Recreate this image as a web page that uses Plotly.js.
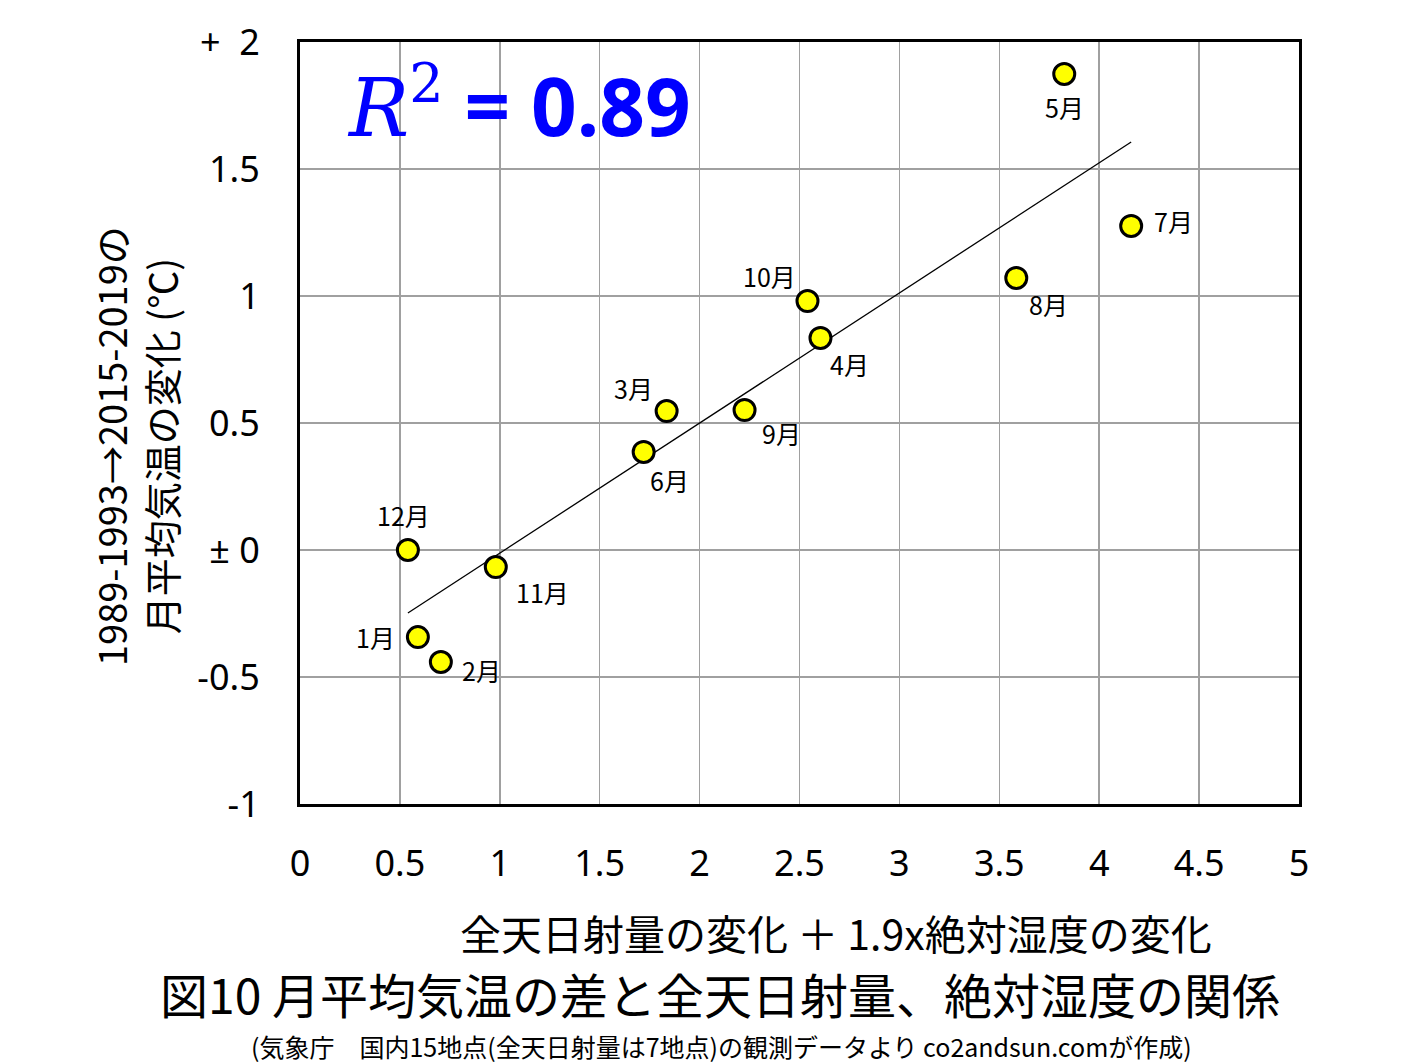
<!DOCTYPE html>
<html>
<head>
<meta charset="utf-8">
<script src="https://cdn.plot.ly/plotly-3.0.1.min.js"></script>
<style>
html,body{margin:0;padding:0;background:#fff;}
#chart{width:1418px;height:1064px;}
</style>
</head>
<body>
<div id="chart"></div>
<script>
// Data
const months = ["1月","2月","3月","4月","5月","6月","7月","8月","9月","10月","11月","12月"];
const xChange = [0.59, 0.705, 1.835, 2.605, 3.825, 1.72, 4.16, 3.585, 2.225, 2.54, 0.98, 0.54];
const tempChange = [-0.343, -0.441, 0.547, 0.835, 1.874, 0.386, 1.276, 1.071, 0.551, 0.98, -0.067, 0.0];
// label offsets (pixels) relative to each point
const labelDx = [-42, 41, -33, 29, 0, 26, 42, 32, 37, -38, 47, -4];
const labelDy = [0, -8, 23, -26, -33, -28, 5, -26, -23, 25, -25, 35];

const xTickVals = [0,0.5,1,1.5,2,2.5,3,3.5,4,4.5,5];
const xTickText = ["0","0.5","1","1.5","2","2.5","3","3.5","4","4.5","5"];
const yTickVals = [-1,-0.5,0,0.5,1,1.5,2];
const yTickText = ["-1","-0.5","±\u00a00","0.5","1","1.5","+\u00a0\u00a02"];

// least-squares trend line
const n = xChange.length;
const mx = xChange.reduce((a,b)=>a+b,0)/n;
const my = tempChange.reduce((a,b)=>a+b,0)/n;
let sxy=0, sxx=0;
for(let i=0;i<n;i++){sxy+=(xChange[i]-mx)*(tempChange[i]-my);sxx+=(xChange[i]-mx)**2;}
const slope = sxy/sxx, icpt = my - slope*mx;
const xmin = Math.min(...xChange), xmax = Math.max(...xChange);
const trendX = [xmin, xmax];
const trendY = trendX.map(v=>icpt+slope*v);

const JP = "'Noto Sans CJK JP', 'Noto Sans', sans-serif";
const NUM = "'Noto Sans', 'DejaVu Sans', sans-serif";

const traces = [
  {x: trendX, y: trendY, mode:'lines', line:{color:'#000', width:1.3}, hoverinfo:'skip', showlegend:false},
  {x: xChange, y: tempChange, mode:'markers', showlegend:false,
   marker:{size:21, color:'#FFFF00', line:{color:'#000', width:3}}}
];

const annotations = months.map((m,i)=>({
  x: xChange[i], y: tempChange[i], xref:'x', yref:'y', text:m, showarrow:false,
  xshift: labelDx[i], yshift: labelDy[i],
  font:{family:JP, size:25, color:'#000'}
}));

annotations.push({
  xref:'paper', yref:'paper', x:0.045, y:0.918, xanchor:'left', yanchor:'middle',
  showarrow:false,
  text:"<span style='font-family:DejaVu Serif, Liberation Serif, serif'><i>R</i><sup><span style='font-size:54px'>2</span></sup></span><b> = 0.89</b>",
  font:{family:"'Noto Sans', 'DejaVu Sans', sans-serif", size:80, color:'#0000FF'}
});
annotations.push({
  xref:'paper', yref:'paper', x:-0.165, y:0.47, xanchor:'center', yanchor:'middle',
  textangle:-90, showarrow:false,
  text:"1989-1993→2015-2019の<br>月平均気温の変化 (℃)",
  font:{family:JP, size:38, color:'#000'}
});
annotations.push({
  xref:'paper', yref:'paper', x:0.537, y:-0.168, xanchor:'center', yanchor:'middle',
  showarrow:false,
  text:"全天日射量の変化 ＋ 1.9x絶対湿度の変化",
  font:{family:JP, size:41, color:'#000'}
});
annotations.push({
  xref:'paper', yref:'paper', x:0.42, y:-0.248, xanchor:'center', yanchor:'middle',
  showarrow:false,
  text:"図10 月平均気温の差と全天日射量、絶対湿度の関係",
  font:{family:JP, size:48, color:'#000'}
});
annotations.push({
  xref:'paper', yref:'paper', x:0.422, y:-0.318, xanchor:'center', yanchor:'middle',
  showarrow:false,
  text:"(気象庁　国内15地点(全天日射量は7地点)の観測データより co2andsun.comが作成)",
  font:{family:JP, size:25, color:'#000'}
});

const layout = {
  width:1418, height:1064,
  margin:{l:300, r:119, t:42, b:260},
  paper_bgcolor:'#fff', plot_bgcolor:'#fff',
  showlegend:false,
  xaxis:{range:[0,5], tickvals:xTickVals, ticktext:xTickText, showgrid:true, gridcolor:'#a0a0a0', gridwidth:1.5,
         zeroline:false, showline:true, mirror:true, linecolor:'#000', linewidth:3, ticks:'',
         ticklabelstandoff:26, tickfont:{family:NUM, size:36, color:'#000'}},
  yaxis:{range:[-1,2], tickvals:yTickVals, ticktext:yTickText, showgrid:true, gridcolor:'#a0a0a0', gridwidth:1.5,
         zeroline:false, showline:true, mirror:true, linecolor:'#000', linewidth:3, ticks:'',
         ticklabelstandoff:30, tickfont:{family:NUM, size:36, color:'#000'}},
  annotations: annotations
};

Plotly.newPlot('chart', traces, layout, {displayModeBar:false, staticPlot:true});
</script>
</body>
</html>
